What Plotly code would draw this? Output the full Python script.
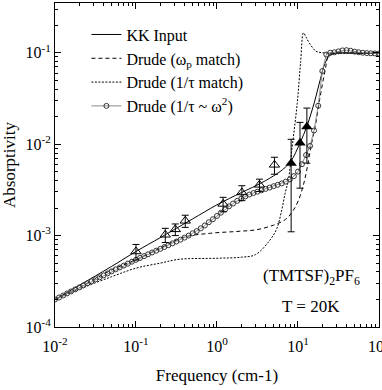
import plotly.graph_objects as go

# KK input (solid line)
kk_x = [0.01, 0.02, 0.05, 0.1, 0.2, 0.3, 0.5, 1.0, 2.0, 3.0, 4.0, 5.0, 6.0, 7.0, 8.2,
        10.6, 13.0, 16.0, 19.0, 21.5, 24.0, 27.0, 32.0, 50.0, 100.0]
kk_y = [2.0e-4, 2.86e-4, 4.6e-4, 6.7e-4, 9.5e-4, 1.17e-3, 1.52e-3, 2.17e-3, 2.95e-3,
        3.5e-3, 4.0e-3, 4.5e-3, 5.0e-3, 5.6e-3, 6.5e-3, 1.03e-2, 1.6e-2, 2.9e-2, 5.2e-2,
        7.6e-2, 9.1e-2, 9.7e-2, 9.9e-2, 9.9e-2, 9.8e-2]

# Drude (wp match), dashed
wp_x = [0.01, 0.02, 0.05, 0.1, 0.2, 0.39, 0.83, 1.77, 3.11, 5.0, 6.6, 7.6, 8.8, 10.1,
        11.7, 13.0, 14.5, 16.3, 18.8, 21.7, 23.8, 27.0, 35.0, 100.0]
wp_y = [2.0e-4, 2.7e-4, 4.2e-4, 5.45e-4, 7.3e-4, 9.6e-4, 1.06e-3, 1.11e-3, 1.16e-3,
        1.3e-3, 1.45e-3, 1.6e-3, 1.9e-3, 2.4e-3, 3.6e-3, 5.5e-3, 9.5e-3, 1.55e-2, 3.3e-2,
        6.5e-2, 9.2e-2, 9.9e-2, 1.0e-1, 9.8e-2]

# Drude (1/tau match), dotted
tau_x = [0.01, 0.02, 0.05, 0.1, 0.2, 0.34, 1.0, 2.0, 3.0, 4.5, 5.5, 6.3, 6.95, 7.64,
         8.41, 9.8, 10.8, 11.7, 12.5, 13.8, 16.7, 20.0, 30.0, 100.0]
tau_y = [2.0e-4, 2.6e-4, 3.55e-4, 4.4e-4, 5.0e-4, 5.5e-4, 5.65e-4, 5.8e-4, 6.2e-4,
         8.9e-4, 1.2e-3, 1.9e-3, 2.9e-3, 4.1e-3, 8.7e-3, 2.8e-2, 8.0e-2, 0.165, 0.15,
         0.128, 0.104, 0.1, 0.099, 0.098]

# Drude (1/tau ~ w^2), open circles
om_x = [0.0100, 0.0112, 0.0126, 0.0141, 0.0158, 0.0178, 0.0200, 0.0224, 0.0251, 0.0282,
        0.0316, 0.0355, 0.0398, 0.0447, 0.0501, 0.0562, 0.0631, 0.0708, 0.0794, 0.0891,
        0.100, 0.112, 0.126, 0.141, 0.158, 0.178, 0.200, 0.224, 0.251, 0.282,
        0.316, 0.355, 0.398, 0.447, 0.501, 0.562, 0.631, 0.708, 0.794, 0.891,
        1.00, 1.12, 1.26, 1.41, 1.58, 1.78, 2.00, 2.24, 2.51, 2.82,
        3.16, 3.55, 3.98, 4.47, 5.01, 5.62, 6.31, 7.08, 7.94, 8.91,
        10.0, 11.2, 12.6, 14.1, 15.8, 17.8, 20.0, 22.4, 25.1, 28.2,
        31.6, 35.5, 39.8, 44.7, 50.1, 56.2, 63.1, 70.8, 79.4, 89.1, 100.0]
om_y = [2.00e-4, 2.10e-4, 2.21e-4, 2.33e-4, 2.45e-4, 2.58e-4, 2.71e-4, 2.85e-4, 3.00e-4, 3.16e-4,
        3.32e-4, 3.49e-4, 3.67e-4, 3.86e-4, 4.06e-4, 4.27e-4, 4.48e-4, 4.70e-4, 4.93e-4, 5.18e-4,
        5.43e-4, 5.69e-4, 5.96e-4, 6.24e-4, 6.53e-4, 6.84e-4, 7.16e-4, 7.50e-4, 7.85e-4, 8.22e-4,
        8.61e-4, 9.02e-4, 9.51e-4, 1.00e-3, 1.06e-3, 1.12e-3, 1.20e-3, 1.29e-3, 1.40e-3, 1.51e-3,
        1.64e-3, 1.78e-3, 1.93e-3, 2.09e-3, 2.24e-3, 2.40e-3, 2.54e-3, 2.68e-3, 2.81e-3, 2.92e-3,
        3.02e-3, 3.13e-3, 3.24e-3, 3.35e-3, 3.47e-3, 3.59e-3, 3.72e-3, 3.89e-3, 4.12e-3, 4.47e-3,
        5.01e-3, 6.03e-3, 7.59e-3, 9.55e-3, 1.41e-2, 2.63e-2, 6.31e-2, 9.55e-2, 0.100, 0.101,
        0.1035, 0.106, 0.1067, 0.1052, 0.1028, 0.1012, 0.100, 0.0991, 0.0986, 0.0982, 0.098]

# measured points: open triangles and filled triangles
open_x = [0.1, 0.23, 0.306, 0.406, 1.19, 2.03, 3.35, 5.13]
open_y = [6.7e-4, 1.02e-3, 1.17e-3, 1.45e-3, 2.22e-3, 2.96e-3, 3.59e-3, 5.94e-3]
open_err = [1.3e-4, 1.8e-4, 1.7e-4, 2.2e-4, 4.0e-4, 5.5e-4, 5.5e-4, 1.25e-3]

fill_x = [8.24, 10.6, 12.9]
fill_y = [6.2e-3, 1.03e-2, 1.55e-2]
fill_err = [5.1e-3, 7.0e-3, 9.3e-3]

# tick labels
x_ticks = [0.01, 0.1, 1, 10, 100]
x_labels = ['10<sup>-2</sup>', '10<sup>-1</sup>', '10<sup>0</sup>', '10<sup>1</sup>', '10<sup>2</sup>']
y_ticks = [1e-4, 1e-3, 1e-2, 1e-1]
y_labels = ['10<sup>-4</sup>', '10<sup>-3</sup>', '10<sup>-2</sup>', '10<sup>-1</sup>']

font = "Liberation Serif, Times New Roman, serif"

fig = go.Figure()
fig.add_trace(go.Scatter(x=kk_x, y=kk_y, mode='lines', name='KK Input',
                         line=dict(color='black', width=1, shape='spline')))
fig.add_trace(go.Scatter(x=wp_x, y=wp_y, mode='lines', name='Drude (ω<sub>p</sub> match)',
                         line=dict(color='black', width=1, dash='4px,3px', shape='spline')))
fig.add_trace(go.Scatter(x=tau_x, y=tau_y, mode='lines', name='Drude (1/τ match)',
                         line=dict(color='black', width=1, dash='2px,1.5px', shape='spline')))
fig.add_trace(go.Scatter(x=om_x, y=om_y, mode='lines+markers', name='Drude (1/τ ~ ω<sup>2</sup>)',
                         line=dict(color='#8a8a8a', width=1),
                         marker=dict(symbol='circle-open', size=5, color='#333',
                                     line=dict(width=1))))
fig.add_trace(go.Scatter(x=open_x, y=open_y, mode='markers', showlegend=False,
                         marker=dict(symbol='triangle-up-open', size=9, color='black',
                                     line=dict(width=1)),
                         error_y=dict(type='data', array=open_err, color='black',
                                      thickness=1, width=3.5)))
fig.add_trace(go.Scatter(x=fill_x, y=fill_y, mode='markers', showlegend=False,
                         marker=dict(symbol='triangle-up', size=10, color='black'),
                         error_y=dict(type='data', array=fill_err, color='black',
                                      thickness=1, width=3.5)))

fig.add_annotation(x=0.792, y=0.154, xref='paper', yref='paper', showarrow=False,
                   xanchor='center', yanchor='middle',
                   text='(TMTSF)<sub>2</sub>PF<sub>6</sub>', font=dict(size=17))
fig.add_annotation(x=0.79, y=0.062, xref='paper', yref='paper', showarrow=False,
                   xanchor='center', yanchor='middle',
                   text='T = 20K', font=dict(size=17))

axis_common = dict(type='log', showline=True, linecolor='black', linewidth=1, mirror='allticks',
                   ticks='inside', ticklen=6, tickcolor='black', showgrid=False, zeroline=False,
                   tickfont=dict(size=16), automargin=False, ticklabeloverflow='allow',
                   minor=dict(ticks='inside', ticklen=3, tickcolor='black', dtick='D1',
                              showgrid=False))

fig.update_xaxes(range=[-2, 2.001], tickvals=x_ticks, ticktext=x_labels, ticklabelstandoff=5,
                 title=dict(text='Frequency (cm-1)', font=dict(size=17), standoff=14),
                 **axis_common)
fig.update_yaxes(range=[-4, -0.456], tickvals=y_ticks, ticktext=y_labels,
                 title=dict(text='Absorptivity', font=dict(size=17), standoff=6),
                 **axis_common)

fig.update_layout(
    width=382, height=390,
    margin=dict(l=55, r=3, t=3, b=63),
    paper_bgcolor='white', plot_bgcolor='white',
    font=dict(family=font, color='black', size=16),
    legend=dict(x=0.097, y=0.955, xanchor='left', yanchor='top', bgcolor='rgba(0,0,0,0)',
                font=dict(size=16), tracegroupgap=0),
)

fig.write_html("out.html", config={'displayModeBar': False},
               post_script="document.body.style.margin='0';")
